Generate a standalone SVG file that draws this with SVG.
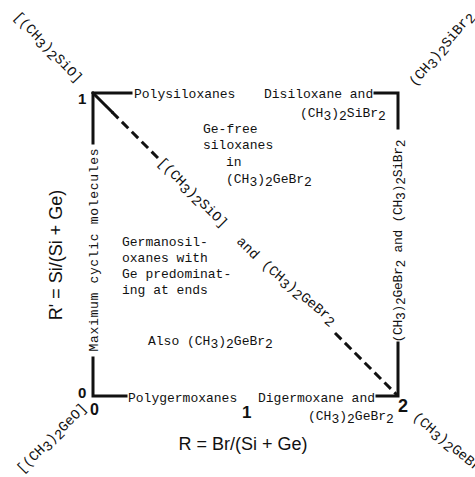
<svg xmlns="http://www.w3.org/2000/svg" width="475" height="477" viewBox="0 0 475 477">
<style>
.tw{font-family:"Liberation Mono","DejaVu Sans Mono",monospace;font-size:13px;fill:#111}
.tw14{font-family:"Liberation Mono","DejaVu Sans Mono",monospace;font-size:14px;fill:#111}
.num{font-family:"Liberation Sans",Arial,sans-serif;font-weight:bold;fill:#111}
.ax{font-family:"Liberation Sans",Arial,sans-serif;font-size:18px;fill:#111}
.edge{stroke:#111;stroke-width:3;fill:none;stroke-linecap:square}
.dash{stroke:#111;stroke-width:3;fill:none;stroke-dasharray:9 5}
</style>
<rect width="475" height="477" fill="#fff"/>
<g id="connectors">
<path class="edge" d="M131,93 H93 V143"/>
<path class="edge" d="M375,93 H398 V128"/>
<path class="edge" d="M93,358 V396 H126"/>
<path class="edge" d="M377,396 H398 V343"/>
<path class="edge" d="M93,93 L112,112"/>
<path class="dash" d="M112,112 L158,158"/>
<path class="dash" d="M335,333 L398,396"/>
</g>
<g id="corner-1">
<text class="num" x="78" y="104" font-size="15">1</text>
<text class="tw14" transform="translate(13,17) rotate(46)">[(CH<tspan dy="3">3</tspan><tspan dy="-3">)</tspan><tspan dy="3">2</tspan><tspan dy="-3">SiO]</tspan></text>
</g>
<g id="corner-top-right">
<text class="tw14" transform="translate(415,87) rotate(-50)">(CH<tspan dy="3">3</tspan><tspan dy="-3">)</tspan><tspan dy="3">2</tspan><tspan dy="-3">SiBr</tspan><tspan dy="3">2</tspan></text>
</g>
<g id="corner-0">
<text class="num" x="78" y="398" font-size="15">0</text>
<text class="num" x="90" y="415" font-size="16">0</text>
<text class="tw14" transform="translate(22,474) rotate(-45)">[(CH<tspan dy="3">3</tspan><tspan dy="-3">)</tspan><tspan dy="3">2</tspan><tspan dy="-3">GeO]</tspan></text>
</g>
<g id="corner-2">
<text class="num" x="398" y="412" font-size="18">2</text>
<text class="tw14" transform="translate(412,418) rotate(40)">(CH<tspan dy="3">3</tspan><tspan dy="-3">)</tspan><tspan dy="3">2</tspan><tspan dy="-3">GeBr</tspan><tspan dy="3">2</tspan></text>
</g>
<g id="tick-1">
<text class="num" x="242" y="418" font-size="17">1</text>
</g>
<g id="top-edge">
<text class="tw" x="134" y="98">Polysiloxanes</text>
<text class="tw" x="264" y="98">Disiloxane and</text>
<text class="tw" x="300" y="117">(CH<tspan dy="3">3</tspan><tspan dy="-3">)</tspan><tspan dy="3">2</tspan><tspan dy="-3">SiBr</tspan><tspan dy="3">2</tspan></text>
</g>
<g id="bottom-edge">
<text class="tw" x="128" y="402">Polygermoxanes</text>
<text class="tw" x="258" y="402">Digermoxane and</text>
<text class="tw" x="308" y="420">(CH<tspan dy="3">3</tspan><tspan dy="-3">)</tspan><tspan dy="3">2</tspan><tspan dy="-3">GeBr</tspan><tspan dy="3">2</tspan></text>
</g>
<g id="left-edge">
<text class="tw" transform="translate(98,250) rotate(-90)" text-anchor="middle" textLength="203" lengthAdjust="spacing">Maximum cyclic molecules</text>
</g>
<g id="right-edge">
<text class="tw" transform="translate(402,241) rotate(-90)" text-anchor="middle" textLength="203" lengthAdjust="spacing">(CH<tspan dy="3">3</tspan><tspan dy="-3">)</tspan><tspan dy="3">2</tspan><tspan dy="-3">GeBr</tspan><tspan dy="3">2</tspan><tspan dy="-3"> and (CH</tspan><tspan dy="3">3</tspan><tspan dy="-3">)</tspan><tspan dy="3">2</tspan><tspan dy="-3">SiBr</tspan><tspan dy="3">2</tspan></text>
</g>
<g id="diagonal">
<text class="tw14" transform="translate(157,163) rotate(45)">[(CH<tspan dy="3">3</tspan><tspan dy="-3">)</tspan><tspan dy="3">2</tspan><tspan dy="-3">SiO]</tspan></text>
<text class="tw14" transform="translate(236,242) rotate(45)">and</text>
<text class="tw14" transform="translate(261,266) rotate(40)">(CH<tspan dy="3">3</tspan><tspan dy="-3">)</tspan><tspan dy="3">2</tspan><tspan dy="-3">GeBr</tspan><tspan dy="3">2</tspan></text>
</g>
<g id="region-ge-free">
<text class="tw" x="203" y="133">Ge-free</text>
<text class="tw" x="203" y="149">siloxanes</text>
<text class="tw" x="226" y="166">in</text>
<text class="tw" x="226" y="183">(CH<tspan dy="3">3</tspan><tspan dy="-3">)</tspan><tspan dy="3">2</tspan><tspan dy="-3">GeBr</tspan><tspan dy="3">2</tspan></text>
</g>
<g id="region-germanosiloxanes">
<text class="tw" x="122" y="246">Germanosil-</text>
<text class="tw" x="122" y="262">oxanes with</text>
<text class="tw" x="122" y="278">Ge predominat-</text>
<text class="tw" x="122" y="294">ing at ends</text>
<text class="tw" x="148" y="345">Also (CH<tspan dy="3">3</tspan><tspan dy="-3">)</tspan><tspan dy="3">2</tspan><tspan dy="-3">GeBr</tspan><tspan dy="3">2</tspan></text>
</g>
<g id="axes">
<text class="ax" transform="translate(62,255) rotate(-90)" text-anchor="middle">R' = Si/(Si + Ge)</text>
<text class="ax" x="243" y="450" text-anchor="middle">R = Br/(Si + Ge)</text>
</g>
</svg>
